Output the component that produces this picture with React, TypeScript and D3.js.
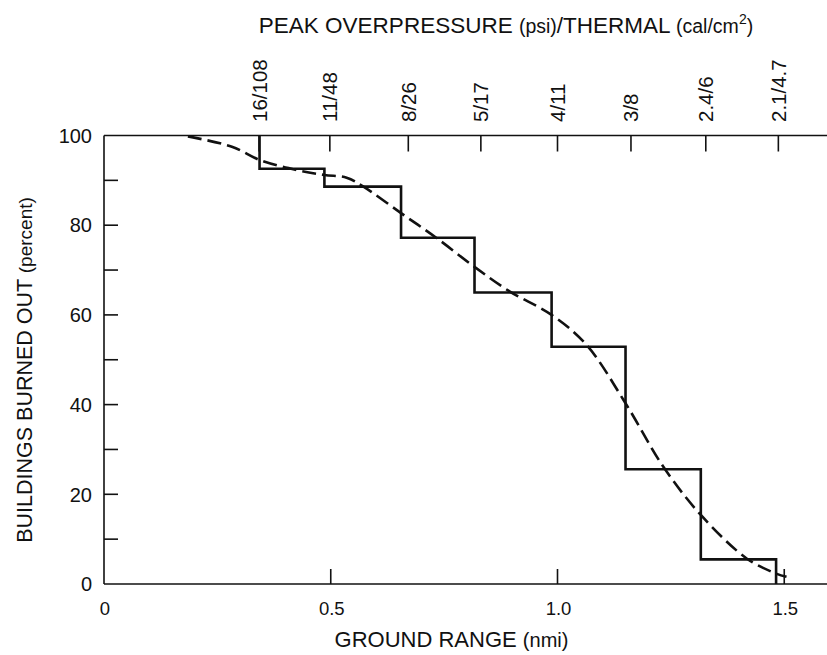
import React from "react";
import * as d3 from "d3";

// ---- data ----
const yTickValues = [0, 20, 40, 60, 80, 100];
const yMinorValues = [10, 30, 50, 70, 90];
const xTickValues = [0, 0.5, 1.0, 1.5];
const xTickLabels = ["0", "0.5", "1.0", "1.5"];
const topTickValues = [0.342, 0.498, 0.671, 0.831, 1.0, 1.162, 1.327, 1.487];
const topTickLabels = ["16/108", "11/48", "8/26", "5/17", "4/11", "3/8", "2.4/6", "2.1/4.7"];

// histogram step: edges (ground range) and levels (percent)
const stepEdges = [0.343, 0.486, 0.655, 0.817, 0.987, 1.15, 1.316, 1.482];
const stepLevels = [92.6, 88.6, 77.2, 65.0, 52.9, 25.6, 5.5];

// dashed fitted curve
const curveRange = [0.185, 0.282, 0.344, 0.425, 0.486, 0.535, 0.572, 0.655, 0.734, 0.817, 0.895, 0.987, 1.064, 1.15, 1.233, 1.316, 1.417, 1.48, 1.505];
const curvePct = [99.8, 97.5, 94.5, 92.3, 91.2, 90.6, 88.6, 82.7, 77.1, 70.7, 65.2, 60.0, 53.3, 40.3, 26.2, 15.4, 5.7, 2.4, 1.6];

const FONT = "'Liberation Sans', Arial, Helvetica, sans-serif";

export default function App() {
  const W = 827, H = 655;
  const x = d3.scaleLinear().domain([0, 1.5]).range([104, 784.25]);
  const y = d3.scaleLinear().domain([0, 100]).range([584, 135.5]);
  const xRight = 827;

  const stepPts: [number, number][] = [[stepEdges[0], 100]];
  stepLevels.forEach((lv, i) => stepPts.push([stepEdges[i], lv]));
  stepPts.push([stepEdges[stepEdges.length - 1], 0]);
  const stepLine = d3.line<[number, number]>()
    .x(d => x(d[0])).y(d => y(d[1])).curve(d3.curveStepAfter);

  const curvePts: [number, number][] = curveRange.map((r, i) => [r, curvePct[i]]);
  const curveLine = d3.line<[number, number]>()
    .x(d => x(d[0])).y(d => y(d[1])).curve(d3.curveCatmullRom.alpha(0.5));

  return (
    <svg width={W} height={H} style={{ position: "absolute", left: 0, top: 0, background: "#fff" }}
      fontFamily={FONT}>
      <rect x={0} y={0} width={W} height={H} fill="#fff" />
      {/* title */}
      <text x={506} y={33} textAnchor="middle" fontSize={22.5} fill="#111">
        PEAK OVERPRESSURE <tspan fontSize={19.5}>(psi)</tspan>/THERMAL <tspan fontSize={19.5}>(cal/cm</tspan>
        <tspan fontSize={14} dy={-9}>2</tspan><tspan fontSize={19.5} dy={9}>)</tspan>
      </text>

      {/* axes lines */}
      <g stroke="#111" strokeWidth={1.6} fill="none">
        <line x1={x(0)} x2={x(0)} y1={y(100)} y2={y(0)} />
        <line x1={x(0)} x2={xRight} y1={y(0)} y2={y(0)} />
        <line x1={x(0)} x2={xRight} y1={y(100)} y2={y(100)} />
      </g>

      {/* left ticks */}
      <g stroke="#111" strokeWidth={1.6}>
        {[...yTickValues.filter(v => v > 0 && v < 100), ...yMinorValues].map(v => (
          <line key={"yt" + v} x1={x(0)} x2={x(0) + 14} y1={y(v)} y2={y(v)} />
        ))}
      </g>
      <g fontSize={20} fill="#111" textAnchor="end">
        {yTickValues.map(v => (
          <text key={"yl" + v} x={92} y={y(v)} dy="0.36em">{v}</text>
        ))}
      </g>

      {/* bottom ticks */}
      <g stroke="#111" strokeWidth={1.6}>
        {xTickValues.filter(v => v > 0).map(v => (
          <line key={"xt" + v} x1={x(v)} x2={x(v)} y1={y(0)} y2={y(0) - 15} />
        ))}
      </g>
      <g fontSize={18.5} fill="#111" textAnchor="middle">
        {xTickValues.map((v, i) => (
          <text key={"xl" + v} x={x(v) + 1} y={615}>{xTickLabels[i]}</text>
        ))}
      </g>

      {/* top ticks */}
      <g stroke="#111" strokeWidth={1.6}>
        {topTickValues.map(v => (
          <line key={"tt" + v} x1={x(v)} x2={x(v)} y1={y(100)} y2={y(100) + 16} />
        ))}
      </g>
      <g fontSize={20.5} fill="#111">
        {topTickValues.map((v, i) => (
          <text key={"tl" + v} transform={`translate(${x(v) + 7.5},122) rotate(-90)`} textAnchor="start">
            {topTickLabels[i]}
          </text>
        ))}
      </g>

      {/* axis titles */}
      <text transform="translate(31.5,370) rotate(-90)" textAnchor="middle" fontSize={21.5} fill="#111">
        BUILDINGS BURNED OUT <tspan fontSize={19}>(percent)</tspan>
      </text>
      <text x={451.5} y={647} textAnchor="middle" fontSize={22} fill="#111">
        GROUND RANGE <tspan fontSize={20}>(nmi)</tspan>
      </text>

      {/* data */}
      <path d={stepLine(stepPts) || ""} fill="none" stroke="#111" strokeWidth={2.6} />
      <path d={curveLine(curvePts) || ""} fill="none" stroke="#111" strokeWidth={2.6} strokeDasharray="14,6" />
    </svg>
  );
}
